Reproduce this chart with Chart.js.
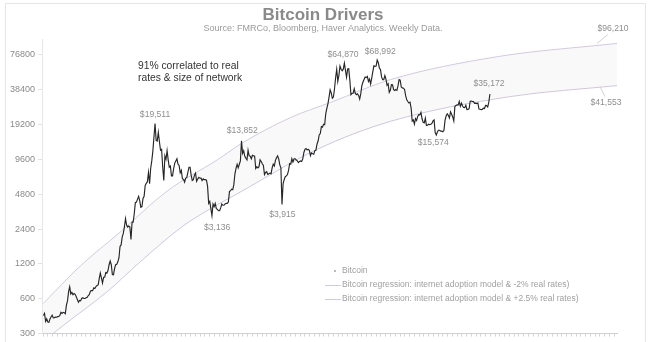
<!DOCTYPE html>
<html>
<head>
<meta charset="utf-8">
<title>Bitcoin Drivers</title>
<script src="https://cdn.jsdelivr.net/npm/chart.js@4.4.0/dist/chart.umd.min.js"></script>
<style>
  html, body { margin: 0; padding: 0; background: #fff; }
  #wrap { width: 660px; height: 342px; overflow: hidden; }
</style>
</head>
<body>
<div id="wrap"><canvas id="btcChart" width="660" height="342"></canvas></div>
<script>
const titleText = "Bitcoin Drivers";
const subtitleText = "Source: FMRCo, Bloomberg, Haver Analytics. Weekly Data.";
const noteLines = ["91% correlated to real", "rates & size of network"];

const yTicks = [300, 600, 1200, 2400, 4800, 9600, 19200, 38400, 76800];

// weekly closes, first week = 3 Jan 2016
const btcStartYear = 2016.005;
const weekInYears = 7 / 365.25;
const btc2016 = [430, 448, 382, 402, 378, 376, 402, 420, 433, 410, 412, 416, 415, 420, 421, 430, 458,
  448, 458, 455, 445, 528, 575, 690, 760, 660, 680, 650, 665, 655, 625, 590, 560, 580, 575,
  605, 610, 605, 603, 612, 617, 640, 655, 700, 705, 705, 745, 735, 765, 780, 790, 895];
const btc2017 = [1000, 910, 820, 920, 920, 1010, 1000, 1050, 1180, 1270, 1180, 970, 965,
  1090, 1180, 1190, 1250, 1350, 1700, 1750, 2050, 2200, 2500, 2950, 2600, 2500,
  2550, 2500, 1950, 2750, 2750, 3250, 4050, 4100, 4350, 4600, 4200, 3700, 3750,
  4400, 4600, 5700, 5950, 6150, 7400, 5900, 8000, 9300, 11300, 15000, 19511, 14000, 13800];
const btc2018 = [16400, 13600, 11500, 11700, 8200, 6300, 10300, 9600, 11400, 9500, 8200, 8400,
  6900, 6900, 8000, 8900, 9300, 9700, 8700, 8500, 7350, 7700, 6500, 6450, 6100,
  6600, 6700, 7400, 8200, 8200, 7000, 6300, 6400, 7000, 7300, 6200, 6500, 6700, 6600,
  6600, 6300, 6500, 6400, 6400, 6350, 5600, 4000, 4150, 3600, 3136, 3950, 3750];
const btc2019 = [4000, 3600, 3550, 3450, 3450, 3650, 3950, 3850, 3850, 3950, 4000, 4000, 4100,
  5050, 5150, 5300, 5250, 5800, 7200, 8000, 8700, 8100, 8700, 9300, 13852, 10800,
  11400, 10200, 9800, 9500, 11500, 10300, 10200, 9700, 10400, 10300, 10200, 8000, 8300,
  8100, 8300, 9500, 9200, 8800, 8500, 7100, 7400, 7500, 7100, 7200, 7300, 7200];
const btc2020 = [8100, 8700, 8400, 9400, 9900, 10300, 9700, 8600, 8100, 3915, 5900, 6400, 6800,
  6900, 7100, 7700, 8800, 8700, 9700, 9100, 9700, 9700, 9500, 9300, 9000, 9200,
  9300, 9200, 9700, 11000, 11700, 11900, 11600, 11700, 11500, 10300, 10900, 10700, 10600,
  11400, 11500, 13000, 13800, 15600, 16000, 18400, 18200, 19300, 19100, 23800, 26400, 29000];
const btc2021 = [33000, 38200, 36000, 32300, 33100, 39000, 48600, 57500, 45200, 51000, 61200, 57500, 55800,
  57600, 64870, 56200, 49000, 57800, 58200, 46400, 34700, 35700, 35800, 39100, 35600, 34700,
  35300, 34200, 31800, 35400, 41500, 44600, 47000, 49300, 48800, 49900, 45200, 47300, 42800,
  48200, 54900, 61500, 61000, 61300, 68992, 65500, 59000, 57200, 49400, 46700, 46800, 50800];
const btc2022 = [47300, 41800, 43100, 36300, 37900, 42400, 42200, 38400, 37700, 38400, 37800, 41300, 46800,
  46400, 40400, 39700, 39500, 38500, 34000, 31300, 30300, 29400, 29900, 26600, 20500, 21000,
  19300, 21600, 20800, 22500, 23300, 23200, 24400, 21500, 20000, 19800, 21800, 18800, 18900,
  19300, 19100, 19300, 19600, 20600, 21000, 16300, 15574, 16500, 17100, 17100, 16800, 16800];
const btc2023 = [16600, 17100, 20900, 22700, 23700, 23000, 21800, 24600, 23500, 22300, 20600, 27500, 28000,
  28400, 28300, 30300, 27600, 29300, 27700, 26900, 26800, 28100, 25800, 25900, 26300, 30500,
  30600, 30300, 30300, 29200, 29300, 29100, 29400, 26100, 26000, 25800, 25900, 26500, 26300,
  27990, 27900, 27150, 29900, 35172];

// regression curves (internet adoption model)
const negTwoYears = [2016.0, 2016.65, 2017.35, 2018.17, 2019.05, 2019.5, 2020.33, 2021.03, 2022.08, 2023.95, 2026.05];
const negTwoValues = [545, 1150, 2260, 5100, 9500, 13400, 22000, 29700, 46800, 73800, 96210];
const posTwoFiveYears = [2016.0, 2016.35, 2017.12, 2017.7, 2018.45, 2018.92, 2019.45, 2020.8, 2022.08, 2024.18, 2026.05];
const posTwoFiveValues = [256, 352, 689, 1250, 2550, 3570, 5000, 11700, 20400, 33400, 41553];

const seriesLabels = [
  "Bitcoin",
  "Bitcoin regression: internet adoption model & -2% real rates)",
  "Bitcoin regression: internet adoption model & +2.5% real rates)"
];

// price callouts
const calloutYears = [2017.96, 2019.47, 2018.96, 2020.19, 2021.27, 2021.85, 2022.885, 2023.825, 2026.05, 2026.05];
const calloutValues = [19511, 13852, 3136, 3915, 64870, 68992, 15574, 35172, 96210, 41553];

const btcWeekly = [].concat(btc2016, btc2017, btc2018, btc2019, btc2020, btc2021, btc2022, btc2023);
const btcPoints = btcWeekly.map((v, i) => ({ x: btcStartYear + i * weekInYears, y: v }));
const negTwoPoints = negTwoYears.map((yr, i) => ({ x: yr, y: negTwoValues[i] }));
const posTwoFivePoints = posTwoFiveYears.map((yr, i) => ({ x: yr, y: posTwoFiveValues[i] }));

const monthTicks = [];
for (let m = 0; m <= 120; m++) monthTicks.push(2016 + m / 12);

const FONT = '"Liberation Sans", Arial, sans-serif';
const curveColor = "#d3c9de";

const calloutStyle = [
  { dx: 0, dy: -9 }, { dx: 1, dy: -10 }, { dx: 5, dy: 12 }, { dx: 0, dy: 10 },
  { dx: -1, dy: -9 }, { dx: 3, dy: -8 }, { dx: -3, dy: 8 }, { dx: -1, dy: -10 },
  { dx: -4, dy: -15, lead: [-20, 0, -9, -9] }, { dx: -11, dy: 17, lead: [-17, 1, -12, 11] }
];

const decor = {
  id: "decor",
  beforeDraw(chart) {
    const ctx = chart.ctx;
    ctx.save();
    ctx.fillStyle = "#fff";
    ctx.fillRect(0, 0, chart.width, chart.height);
    ctx.strokeStyle = "#e6e6e6";
    ctx.lineWidth = 1;
    ctx.strokeRect(5.5, 3.5, 640, 360);
    ctx.restore();
  },
  afterDraw(chart) {
    const ctx = chart.ctx;
    const xs = chart.scales.x, ys = chart.scales.y;
    ctx.save();
    ctx.textAlign = "center";
    ctx.textBaseline = "middle";
    ctx.fillStyle = "#8a8a8a";
    ctx.font = "bold 17px " + FONT;
    ctx.fillText(titleText, 323, 15);
    ctx.fillStyle = "#9a9a9a";
    ctx.font = "9px " + FONT;
    ctx.fillText(subtitleText, 323, 29);

    ctx.textAlign = "left";
    ctx.fillStyle = "#333";
    ctx.font = "10.3px " + FONT;
    noteLines.forEach((t, i) => ctx.fillText(t, 138, 66 + i * 12.5));

    // callouts
    ctx.textAlign = "center";
    ctx.font = "8.6px " + FONT;
    calloutValues.forEach((v, i) => {
      const px = xs.getPixelForValue(calloutYears[i]);
      const py = ys.getPixelForValue(v);
      const st = calloutStyle[i];
      if (st.lead) {
        ctx.strokeStyle = "#c8c8c8";
        ctx.lineWidth = 0.8;
        ctx.beginPath();
        ctx.moveTo(px + st.lead[0], py + st.lead[1]);
        ctx.lineTo(px + st.lead[2], py + st.lead[3]);
        ctx.stroke();
      }
      ctx.fillStyle = "#8f8f8f";
      ctx.fillText("$" + v.toLocaleString("en-US"), px + st.dx, py + st.dy);
    });

    // legend
    ctx.textAlign = "left";
    ctx.font = "8.5px " + FONT;
    seriesLabels.forEach((t, i) => {
      const ly = 271 + i * 14;
      if (i === 0) {
        ctx.fillStyle = "#999";
        ctx.beginPath();
        ctx.arc(335, ly, 0.9, 0, Math.PI * 2);
        ctx.fill();
      } else {
        ctx.strokeStyle = curveColor;
        ctx.lineWidth = 1;
        ctx.beginPath();
        ctx.moveTo(325, ly + 0.5);
        ctx.lineTo(341, ly + 0.5);
        ctx.stroke();
      }
      ctx.fillStyle = "#a0a0a0";
      ctx.fillText(t, 342, ly);
    });
    ctx.restore();
  }
};

const ctx = document.getElementById("btcChart").getContext("2d");

new Chart(ctx, {
  type: "line",
  data: {
    datasets: [
      {
        label: seriesLabels[0],
        data: btcPoints,
        borderColor: "#262626",
        borderWidth: 1.15,
        pointRadius: 0,
        tension: 0,
        fill: false,
        order: 0,
      },
      {
        label: seriesLabels[1],
        data: negTwoPoints,
        borderColor: curveColor,
        borderWidth: 1,
        pointRadius: 0,
        cubicInterpolationMode: "monotone",
        fill: "+1",
        backgroundColor: "rgba(0,0,0,0.022)",
        order: 1,
      },
      {
        label: seriesLabels[2],
        data: posTwoFivePoints,
        borderColor: curveColor,
        borderWidth: 1,
        pointRadius: 0,
        cubicInterpolationMode: "monotone",
        fill: false,
        order: 2,
      },
    ],
  },
  options: {
    responsive: false,
    devicePixelRatio: 1,
    animation: false,
    layout: { padding: { top: 39, right: 43, left: 0, bottom: 0 } },
    plugins: {
      legend: { display: false },
      tooltip: { enabled: false },
    },
    scales: {
      x: {
        type: "linear",
        min: 2015.98,
        max: 2026.05,
        afterBuildTicks: (s) => { s.ticks = monthTicks.map((v) => ({ value: v })); },
        afterFit: (s) => { s.height = 7; },
        ticks: { display: false },
        grid: { drawOnChartArea: false, drawTicks: true, tickLength: 3, color: "#d6d6d6" },
        border: { display: true, color: "#cfcfcf" },
      },
      y: {
        type: "logarithmic",
        min: 300,
        max: 105000,
        afterBuildTicks: (s) => { s.ticks = yTicks.map((v) => ({ value: v })); },
        afterFit: (s) => { s.width = 42; },
        ticks: {
          autoSkip: false,
          padding: 3,
          color: "#8a8a8a",
          font: { size: 9, family: FONT },
          callback: (v) => String(v),
        },
        grid: { drawOnChartArea: false, drawTicks: true, tickLength: 4, color: "#e2e2e2" },
        border: { display: true, color: "#e6e6e6" },
      },
    },
  },
  plugins: [decor],
});
</script>
</body>
</html>
